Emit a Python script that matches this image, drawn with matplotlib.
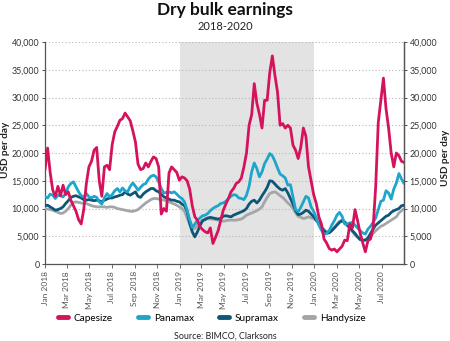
import matplotlib
matplotlib.use("Agg")
import matplotlib.pyplot as plt
import matplotlib.dates as mdates
from matplotlib.lines import Line2D
import pandas as pd

plt.rcParams['font.family'] = ['Lato', 'DejaVu Sans']

start_date = "2018-01-01"
end_date = "2020-08-31"
shade_start = "2019-01-01"
shade_end = "2020-01-01"

capesize = [17.0, 20.9, 16.5, 13.3, 12.2, 14.0, 12.3, 14.2, 12.5, 13.0,
            11.5, 10.5, 9.5, 8.0, 7.2, 9.8, 14.5, 17.5, 18.5, 20.5,
            21.0, 15.0, 12.2, 17.5, 17.8, 17.0, 21.5, 23.8, 24.8, 25.9,
            26.2, 27.2, 26.5, 25.8, 24.0, 22.0, 18.0, 17.0, 17.2, 18.2,
            17.5, 18.5, 19.3, 19.0, 17.5, 9.0, 10.0, 9.5, 16.4, 17.5,
            17.0, 16.5, 15.1, 15.7, 15.5, 15.0, 13.5, 10.5, 8.5, 7.9,
            6.7, 6.2, 5.8, 5.6, 6.5, 3.7, 4.8, 6.0, 7.8, 9.7,
            10.8, 11.8, 13.0, 13.6, 14.5, 14.8, 15.5, 17.5, 20.0, 25.0,
            26.9, 32.5, 29.0, 27.0, 24.5, 29.5, 29.5, 34.5, 37.5, 34.0,
            31.0, 25.0, 25.3, 24.5, 25.0, 24.5, 21.4, 20.5, 19.0, 21.0,
            24.5, 23.0, 17.5, 15.0, 12.5, 10.9, 8.5, 7.2, 4.5, 3.8,
            2.8, 2.5, 2.7, 2.2, 2.7, 3.2, 4.3, 4.2, 7.2, 6.5,
            9.8, 7.8, 5.5, 3.8, 2.2, 4.2, 4.5, 6.5, 13.9, 25.5,
            29.5, 33.5, 28.0, 24.5, 20.0, 17.5, 20.0, 19.5, 18.5, 18.3]

panamax = [12.1, 11.9, 12.6, 12.4, 11.8, 12.4, 12.3, 12.1, 12.7, 13.9,
           14.5, 14.8, 13.9, 13.0, 12.3, 12.1, 12.7, 12.1, 11.9, 12.2,
           12.0, 11.2, 10.8, 11.9, 12.7, 12.1, 12.5, 13.2, 13.6, 13.0,
           13.7, 13.2, 13.0, 14.0, 14.6, 14.0, 13.3, 13.8, 14.3, 14.5,
           15.3, 15.8, 16.0, 15.7, 14.8, 13.6, 12.8, 12.9, 13.0, 12.8,
           13.0, 12.6, 12.1, 11.8, 11.2, 9.7, 8.0, 6.6, 7.2, 7.9,
           8.3, 8.7, 8.8, 9.1, 9.6, 10.0, 10.3, 10.5, 10.9, 11.0,
           11.3, 11.8, 12.2, 12.5, 12.4, 11.9, 11.8, 11.6, 12.4, 14.0,
           16.6, 18.2, 17.2, 15.7, 16.6, 18.1, 18.9, 19.9, 19.5, 18.5,
           17.3, 16.2, 15.9, 15.5, 14.2, 14.3, 12.0, 9.8, 9.4, 10.2,
           11.2, 12.2, 11.9, 10.3, 9.5, 8.3, 7.0, 6.1, 5.3, 5.5,
           6.0, 7.0, 7.8, 8.8, 9.3, 8.6, 7.2, 7.2, 7.4, 7.5,
           7.0, 6.5, 6.0, 5.6, 5.4, 6.3, 6.8, 7.5, 8.3, 9.8,
           11.3, 11.5, 13.2, 12.8, 11.7, 13.5, 14.6, 16.3, 15.3, 14.5]

supramax = [10.5, 10.6, 10.3, 10.0, 9.7, 9.8, 10.0, 10.3, 10.9, 11.4,
            12.0, 12.2, 12.3, 12.1, 11.9, 11.6, 11.5, 11.6, 11.5, 11.4,
            11.5, 11.4, 11.2, 11.5, 11.7, 11.9, 11.9, 12.1, 12.2, 12.4,
            12.5, 13.0, 12.6, 12.4, 12.7, 13.0, 12.2, 12.0, 12.6, 13.0,
            13.3, 13.6, 13.6, 13.2, 13.0, 12.6, 12.1, 11.9, 11.7, 11.5,
            11.5, 11.3, 11.2, 10.8, 10.5, 9.5, 7.3, 5.8, 4.9, 5.8,
            6.9, 7.8, 8.0, 8.3, 8.4, 8.3, 8.2, 8.1, 8.2, 8.6,
            8.7, 8.6, 8.5, 8.8, 9.0, 9.2, 9.4, 9.6, 10.0, 10.8,
            11.3, 11.5, 11.0, 11.5, 12.3, 13.0, 13.8, 15.0, 14.9, 14.4,
            13.9, 13.5, 13.3, 13.6, 12.8, 11.8, 10.8, 9.6, 8.9, 9.0,
            9.3, 9.7, 9.5, 9.0, 8.5, 7.9, 7.3, 6.6, 6.0, 5.6,
            5.6, 6.0, 6.5, 7.0, 7.5, 7.8, 7.6, 7.0, 6.5, 6.0,
            5.5, 4.9, 4.4, 4.3, 4.3, 4.7, 5.5, 6.3, 7.0, 7.4,
            7.8, 8.2, 8.6, 8.8, 9.3, 9.6, 9.8, 10.0, 10.5, 10.6]

handysize = [10.0, 9.9, 9.8, 9.7, 9.5, 9.3, 9.1, 9.2, 9.5, 10.0,
             10.6, 11.1, 11.2, 11.1, 11.0, 10.9, 10.9, 10.7, 10.5, 10.4,
             10.3, 10.3, 10.3, 10.3, 10.2, 10.3, 10.3, 10.2, 10.0, 9.9,
             9.8, 9.7, 9.6, 9.5, 9.5, 9.6, 9.8, 10.2, 10.6, 11.0,
             11.3, 11.6, 11.8, 11.8, 11.7, 11.6, 11.5, 11.4, 11.2, 11.0,
             10.8, 10.6, 10.3, 10.0, 9.5, 8.3, 7.2, 6.3, 6.4, 7.0,
             7.5, 7.9, 8.2, 8.2, 8.1, 8.1, 8.0, 7.9, 7.8, 7.7,
             7.8, 7.9, 7.9, 7.9, 7.9, 8.0, 8.1, 8.4, 8.8, 9.0,
             9.2, 9.4, 9.6, 9.9, 10.3, 11.2, 12.0, 12.7, 12.9, 13.0,
             12.7, 12.3, 12.0, 11.5, 11.0, 10.6, 10.0, 9.2, 8.6, 8.4,
             8.2, 8.3, 8.5, 8.3, 8.2, 7.8, 7.3, 6.7, 6.2, 5.8,
             5.9, 6.1, 6.6, 7.2, 7.7, 7.9, 7.4, 7.0, 6.4, 5.8,
             5.2, 4.8, 4.4, 4.3, 4.3, 4.5, 5.0, 5.5, 6.0, 6.4,
             6.8, 7.0, 7.3, 7.6, 7.9, 8.2, 8.5, 9.2, 9.6, 10.0]

series_names = ["Capesize", "Panamax", "Supramax", "Handysize"]
series_colors = ["#d5125c", "#1ea5cb", "#0c5677", "#a3a5a7"]

dates = pd.date_range(start_date, periods=len(capesize), freq="7D")
all_series = [capesize, panamax, supramax, handysize]

fig = plt.figure(figsize=(4.5, 3.41), dpi=100)
ax = fig.add_axes([0.1, 0.2258, 0.798, 0.651])

ax.axvspan(pd.Timestamp(shade_start), pd.Timestamp(shade_end), color="#e3e3e3", zorder=0, lw=0)

for i in [3, 2, 1, 0]:
    vals = [v * 1000 for v in all_series[i]]
    ax.plot(dates, vals, color=series_colors[i], lw=2.0, zorder=3 + (i == 0),
            solid_joinstyle="round", solid_capstyle="round")

ax.set_xlim(pd.Timestamp(start_date), pd.Timestamp(end_date))
ax.set_ylim(0, 40000)
ax.set_yticks(range(0, 40001, 5000))
ax.yaxis.grid(True, linestyle=(0, (1, 2)), color="#b5b5b5", lw=0.8)
ax.set_axisbelow(True)

fmt = matplotlib.ticker.FuncFormatter(lambda v, p: f"{int(v):,}")
ax.yaxis.set_major_formatter(fmt)
ticks = list(pd.date_range(start_date, "2020-07-01", freq="2MS"))
ax.set_xticks(ticks)
ax.set_xticklabels([t.strftime("%b %Y") for t in ticks], rotation=90, fontsize=6, color="#333333")
ax.tick_params(axis="y", labelsize=6.4, colors="#333333", length=2, width=0.6, pad=2)
ax.tick_params(axis="x", length=3, width=0.6, pad=2, colors="#555555")

ax.spines["top"].set_visible(False)
for s in ["left", "right", "bottom"]:
    ax.spines[s].set_color("#555555")
    ax.spines[s].set_linewidth(0.9)

ax2 = ax.twinx()
ax2.set_ylim(0, 40000)
ax2.set_yticks(range(0, 40001, 5000))
ax2.yaxis.set_major_formatter(fmt)
ax2.tick_params(axis="y", labelsize=6.4, colors="#333333", length=2, width=0.6, pad=2)
for s in ["top", "left", "bottom"]:
    ax2.spines[s].set_visible(False)
ax2.spines["right"].set_color("#555555")
ax2.spines["right"].set_linewidth(0.9)

fig.text(6 / 450, 1 - 150 / 341, "USD per day", rotation=90, ha="center", va="center",
         fontsize=7.2, fontweight="bold", color="#222222")
fig.text(445 / 450, 1 - 158 / 341, "USD per day", rotation=90, ha="center", va="center",
         fontsize=7.2, fontweight="bold", color="#222222")

fig.text(0.5, 0.970, "Dry bulk earnings", ha="center", va="center", fontsize=12.5,
         fontweight="bold", color="#111111")
fig.text(0.5, 0.922, "2018-2020", ha="center", va="center", fontsize=8, color="#222222")

handles = [Line2D([0], [0], color=c, lw=3.5, solid_capstyle="round") for c in series_colors]
fig.legend(handles, series_names, loc="center", bbox_to_anchor=(0.47, 0.067), ncol=4,
           frameon=False, fontsize=7.2, handlelength=1.0, columnspacing=2.5, handletextpad=0.6)

fig.text(0.5, 0.014, "Source: BIMCO, Clarksons", ha="center", va="center", fontsize=6.4,
         color="#222222")

fig.savefig("out.png", dpi=100)
